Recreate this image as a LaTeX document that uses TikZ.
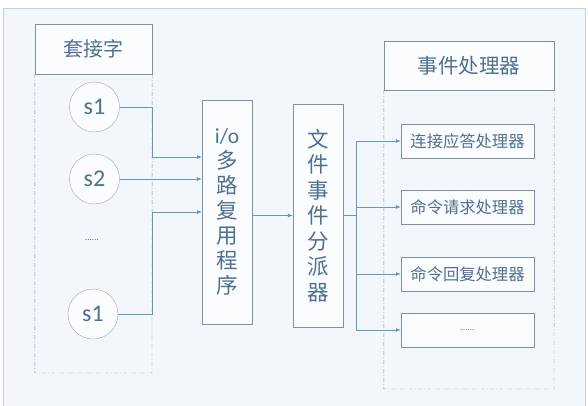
\documentclass[tikz,border=0pt]{standalone}
\usepackage{fontspec}
\setmainfont{Carlito}
\newfontfamily\cjk{Noto Sans CJK SC}
\usetikzlibrary{arrows.meta}
\definecolor{ink}{RGB}{80,112,146}
\definecolor{edge}{RGB}{130,145,160}
\definecolor{flowc}{RGB}{100,150,200}
\definecolor{paper}{RGB}{243,247,251}
\definecolor{framec}{RGB}{200,208,216}
\tikzset{
  box/.style={draw=edge, fill=white!65!paper, text=ink, inner sep=0pt},
  sock/.style={circle, draw=edge!80, fill=white!60!paper, text=ink, minimum size=50pt, inner sep=0pt, font=\fontsize{24}{24}\selectfont},
  handler/.style={box, minimum width=133pt, minimum height=34pt, font=\cjk\fontsize{16.3}{16.3}\selectfont},
  column/.style={box, minimum width=50pt, align=center, font=\cjk\fontsize{21.5}{25}\selectfont},
  dashbox/.style={draw=edge, dash pattern=on 4pt off 2pt on 1pt off 2pt},
  wire/.style={draw=flowc, line width=0.8pt},
  flow/.style={wire, -{Latex[length=5pt,width=4pt]}},
}
\begin{document}
\begin{tikzpicture}[x=1pt,y=-1pt]
\useasboundingbox (0,0) rectangle (588,405);
\fill[white] (0,0) rectangle (588,405);
\draw[framec, fill=paper] (3,410) -- (3,8) -- (585,8) -- (585,410);
%
% sockets
\node (socktitle) at (93.5,49) [box, minimum width=117pt, minimum height=50pt, font=\cjk\fontsize{20}{20}\selectfont] {套接字};
\coordinate (sockend) at (152,373);
\draw[dashbox] (socktitle.south west) -- (socktitle.south west |- sockend) -- (sockend) -- (socktitle.south east);
\node (s1a) at (94.5,107) [sock] {s1};
\node (s2)  at (94.5,179) [sock] {s2};
\node (dots) at (92,240) [text=ink, font=\fontsize{9}{9}\selectfont] {......};
\node (s1b) at (93,314) [sock] {s1};
%
% multiplexer and dispatcher
\node (mux) at (227,212) [column, minimum height=224pt] {{\rmfamily i/o}\\多\\路\\复\\用\\程\\序};
\node (disp) at (318,215.5) [column, minimum height=223pt, font=\cjk\fontsize{21.5}{25.5}\selectfont] {文\\件\\事\\件\\分\\派\\器};
%
% handlers
\node (hdltitle) at (469,65.5) [box, minimum width=170pt, minimum height=49pt, font=\cjk\fontsize{20.5}{20.5}\selectfont] {事件处理器};
\coordinate (hdlend) at (554,389);
\draw[dashbox] (hdltitle.south west) -- (hdltitle.south west |- hdlend) -- (hdlend) -- (hdltitle.south east);
\node (h1) at (467.5,141) [handler] {连接应答处理器};
\node (h2) at (467.5,207) [handler] {命令请求处理器};
\node (h3) at (467.5,274) [handler] {命令回复处理器};
\node (h4) at (467.5,330) [handler, font=\fontsize{9}{9}\selectfont] {......};
%
% connectors
\coordinate (in1) at (202,157);
\coordinate (in3) at (202,212);
\draw[flow] (s1a.east) -| (socktitle.east |- in1) -- (in1);
\draw[flow] (s2.east) -- (s2.east -| mux.west);
\draw[flow] (s1b.east) -| (socktitle.east |- in3) -- (in3);
\draw[flow] (mux.east |- disp.west) -- (disp.west);
%
\coordinate (bus) at (356,215.5);
\draw[wire] (disp.east |- bus) -- (bus);
\draw[wire] (bus |- h1.west) -- (bus |- h4.west);
\foreach \h in {h1,h2,h3,h4}
  \draw[flow] (bus |- \h.west) -- (\h.west);
\end{tikzpicture}
\end{document}
